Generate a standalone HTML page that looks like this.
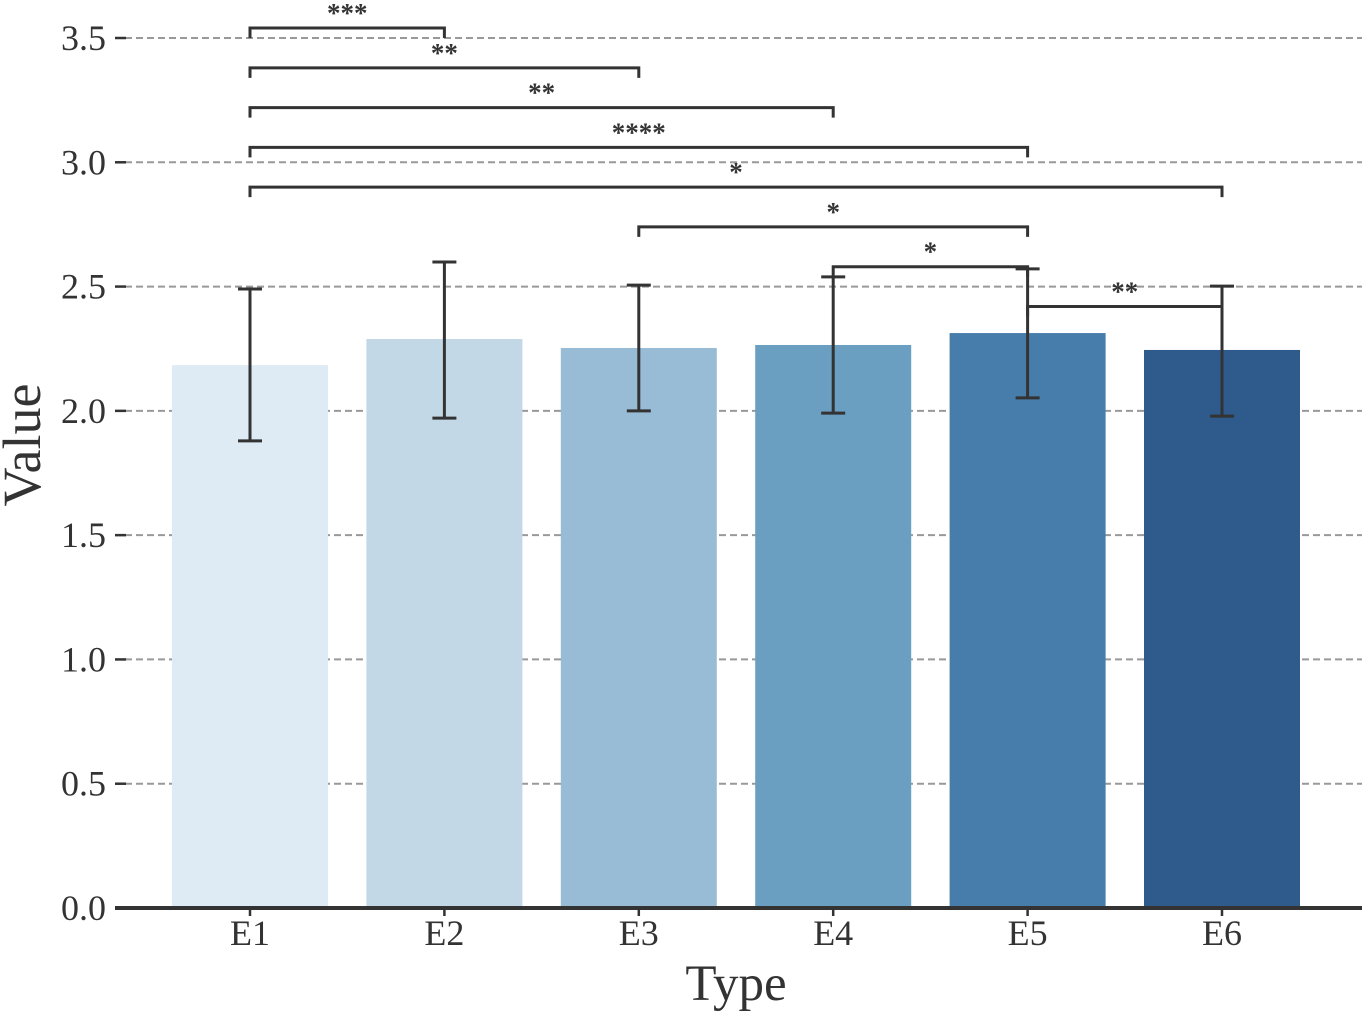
<!DOCTYPE html>
<html><head><meta charset="utf-8"><style>
html,body{margin:0;padding:0;background:#fff}
svg{display:block;font-family:"Liberation Serif",serif}
</style></head><body>
<svg id="chart" width="1362" height="1012"></svg>
<script>
const categories = ["E1","E2","E3","E4","E5","E6"];
const values = [2.184, 2.289, 2.253, 2.265, 2.313, 2.245];
const errLow = [1.879, 1.971, 2.0, 1.991, 2.052, 1.979];
const errHigh = [2.49, 2.599, 2.506, 2.539, 2.571, 2.502];
const colors = ["#deebf5","#c3d8e6","#98bcd5","#6a9fc1","#477dab","#2f5a8c"];
const yTicks = ["0.0","0.5","1.0","1.5","2.0","2.5","3.0","3.5"];
const bracketFrom = [0,0,0,0,0,2,3,4];
const bracketTo = [1,2,3,4,5,4,4,5];
const bracketLabels = ["***","**","**","****","*","*","*","**"];
const bracketLevel = [3.54,3.38,3.22,3.06,2.9,2.74,2.58,2.42];

const NS="http://www.w3.org/2000/svg";
const svg=document.getElementById('chart');
const y0=908, pxPerUnit=248.57;
function yS(v){return y0-v*pxPerUnit;}
function xS(i){return 250+i*194.4;}
function mk(tag,attrs,parent){const e=document.createElementNS(NS,tag);for(const k in attrs)e.setAttribute(k,attrs[k]);(parent||svg).appendChild(e);return e;}

yTicks.forEach(t=>{
  const v=parseFloat(t), y=yS(v);
  if(v>0){
    const g=mk('line',{x1:125,x2:1362,y1:y,y2:y,stroke:'#999','stroke-width':2,'stroke-dasharray':'7,4'});
    
    
  }
  const tk=mk('line',{x1:115,x2:126,y1:y,y2:y,stroke:'#333','stroke-width':2.5});
  
  
  const tx=mk('text',{x:106,y:y+12,'text-anchor':'end','font-size':36,fill:'#333'});
  tx.textContent=t;
  
  
});

categories.forEach((c,i)=>{
  const x=xS(i), w=156;
  const b=mk('rect',{x:x-w/2,y:yS(values[i]),width:w,height:y0-yS(values[i]),fill:colors[i]});
  
  
  const eg=mk('g',{stroke:'#333','stroke-width':3});
  
  
  mk('line',{x1:x,x2:x,y1:yS(errLow[i]),y2:yS(errHigh[i])},eg);
  mk('line',{x1:x-12,x2:x+12,y1:yS(errLow[i]),y2:yS(errLow[i])},eg);
  mk('line',{x1:x-12,x2:x+12,y1:yS(errHigh[i]),y2:yS(errHigh[i])},eg);
  const tk=mk('line',{x1:x,x2:x,y1:y0,y2:y0+8,stroke:'#333','stroke-width':2.5});
  
  
  const tx=mk('text',{x:x,y:945,'text-anchor':'middle','font-size':36,fill:'#333'});
  tx.textContent=c;
  
  
});

const ax=mk('line',{x1:115,x2:1362,y1:y0,y2:y0,stroke:'#333','stroke-width':4});



bracketLabels.forEach((lab,k)=>{
  const x1=xS(bracketFrom[k]), x2=xS(bracketTo[k]), y=yS(bracketLevel[k]);
  const g=mk('g',{});
  
  
  mk('path',{d:`M${x1},${y+10}V${y}H${x2}V${y+10}`,fill:'none',stroke:'#333','stroke-width':3},g);
  const t=mk('text',{x:(x1+x2)/2,y:y-6,'text-anchor':'middle','font-size':27,'font-weight':'bold',fill:'#333'},g);
  t.textContent=lab;
});

const yl=mk('text',{x:0,y:0,transform:'translate(40,445) rotate(-90)','text-anchor':'middle','font-size':54,fill:'#333'});
yl.textContent='Value';


const xl=mk('text',{x:736,y:1000,'text-anchor':'middle','font-size':51,fill:'#333'});
xl.textContent='Type';


</script>
</body></html>
